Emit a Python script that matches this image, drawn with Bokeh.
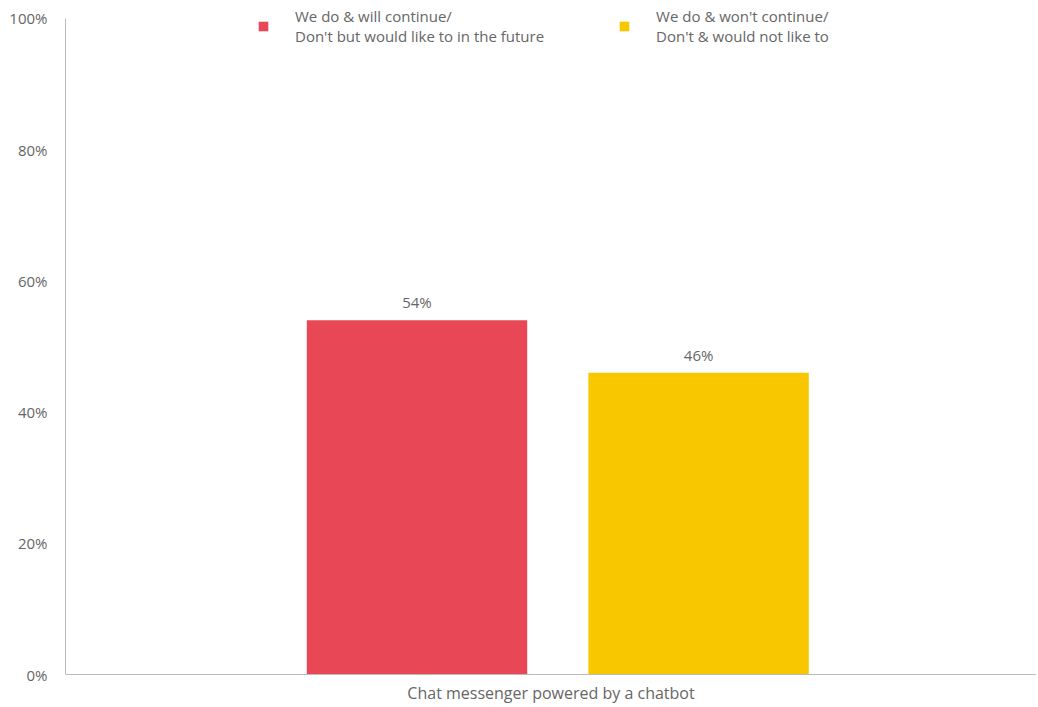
from bokeh.plotting import figure
from bokeh.models import ColumnDataSource, FactorRange, Range1d, Legend, LegendItem, PrintfTickFormatter, FixedTicker, LabelSet
from bokeh.transform import dodge
from bokeh.core.properties import value
from bokeh.embed import file_html
from bokeh.resources import INLINE

categories = ["Chat messenger powered by a chatbot"]
series_names = ["We do & will continue/\nDon't but would like to in the future",
                "We do & won't continue/\nDon't & would not like to"]
series_values = [[54], [46]]
series_colors = ["#E84755", "#F9C700"]
y_ticks = [0, 20, 40, 60, 80, 100]

FONT = "Open Sans"
GREY = "#666666"

p = figure(width=1036, height=707, x_range=FactorRange(*categories, range_padding=0),
           y_range=Range1d(0, 102.13), output_backend="svg", toolbar_location=None,
           min_border_left=65, min_border_right=0, min_border_top=4, min_border_bottom=33)

offsets = [-0.138, 0.152]
bar_w = 0.227
renderers = []
for name, vals, col, off in zip(series_names, series_values, series_colors, offsets):
    src = ColumnDataSource(dict(cat=categories, val=vals, lab=[f"{v}%" for v in vals]))
    r = p.vbar(x=dodge("cat", off, range=p.x_range), top="val", width=bar_w, source=src,
               fill_color=col, line_color=None)
    renderers.append(r)
    labels = LabelSet(x=dodge("cat", off, range=p.x_range), y="val", text="lab", source=src,
                      text_align="center", text_baseline="bottom", y_offset=8,
                      text_font=value(FONT), text_font_size="15px", text_color=GREY)
    p.add_layout(labels)

legend = Legend(items=[LegendItem(label=n, renderers=[r]) for n, r in zip(series_names, renderers)],
                orientation="horizontal", location=(192, 628), border_line_color=None,
                background_fill_alpha=0, glyph_width=12, glyph_height=12, label_standoff=26,
                spacing=74, label_text_font=FONT, label_text_font_size="15px",
                label_text_color=GREY, padding=0, margin=0)
p.add_layout(legend)

p.xgrid.visible = False
p.ygrid.visible = False
p.outline_line_color = None
p.yaxis.ticker = FixedTicker(ticks=y_ticks)
p.yaxis.formatter = PrintfTickFormatter(format="%d%%")
p.yaxis.bounds = (0, 100)
for ax in (p.xaxis, p.yaxis):
    ax.axis_line_color = "#BBBBBB"
    ax.axis_line_width = 1
    ax.major_tick_line_color = None
    ax.minor_tick_line_color = None
    ax.major_tick_out = 0
    ax.major_tick_in = 0
    ax.minor_tick_out = 0
    ax.axis_label_standoff = 0
    ax.major_label_text_font = FONT
    ax.major_label_text_font_size = "15px"
    ax.major_label_text_color = GREY
p.yaxis.major_label_standoff = 18
p.xaxis.major_label_standoff = 7
p.xaxis.major_label_text_font_size = "16px"

open("out.html", "w").write(file_html(p, INLINE))
